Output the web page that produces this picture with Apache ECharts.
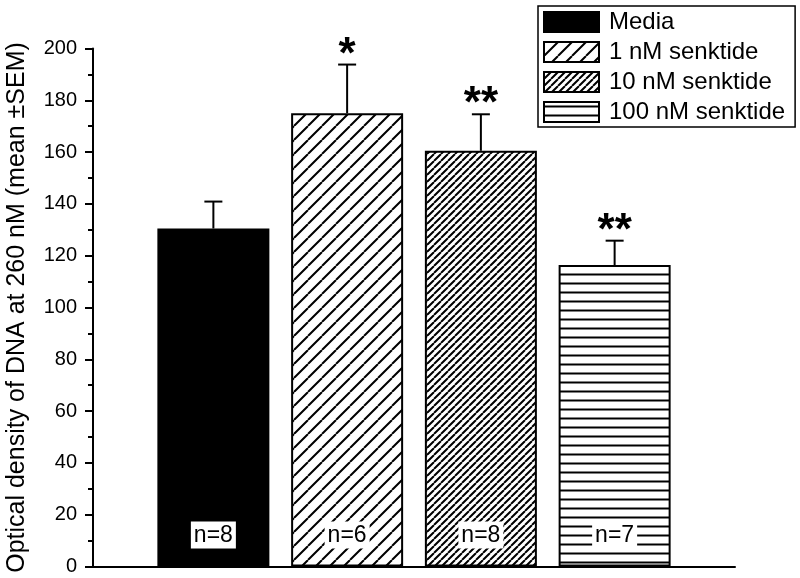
<!DOCTYPE html>
<html>
<head>
<meta charset="utf-8">
<script src="https://cdn.jsdelivr.net/npm/echarts@6/dist/echarts.min.js"></script>
<style>
body { margin: 0; padding: 0; background: #fff; }
#chart { width: 800px; height: 578px; }
</style>
</head>
<body>
<div id="chart"></div>
<script>
// data
const groups = ["Media", "1 nM senktide", "10 nM senktide", "100 nM senktide"];
const means = [130.5, 175, 160.5, 116.4];
const sem = [10.4, 18.8, 14.1, 9.4];
const nLabels = ["n=8", "n=6", "n=8", "n=7"];
const stars = ["", "*", "**", "**"];

const FONT = "Liberation Sans, Arial, sans-serif";

// hatch patterns
function hatch(kind, size) {
  let c = document.createElement("canvas");
  c.width = size;
  c.height = size;
  let ctx = c.getContext("2d");
  ctx.fillStyle = "#fff";
  ctx.fillRect(0, 0, size, size);
  ctx.strokeStyle = "#000";
  ctx.lineWidth = 2;
  ctx.beginPath();
  if (kind === "diag") {
    for (let k = -1; k <= 1; k++) {
      ctx.moveTo(k * size, size);
      ctx.lineTo(k * size + size, 0);
    }
  } else {
    ctx.moveTo(0, size / 2);
    ctx.lineTo(size, size / 2);
  }
  ctx.stroke();
  return { image: c, repeat: "repeat" };
}

const fills = ["#000", hatch("diag", 14), hatch("diag", 7), hatch("horiz", 9)];

let series = groups.map((name, i) => ({
  name: name,
  type: "bar",
  barWidth: 112,
  barGap: "-100%",
  data: [[i + 1, means[i]]],
  itemStyle: { color: fills[i], borderColor: "#000", borderWidth: 2 },
  label: {
    show: true,
    position: "insideBottom",
    distance: 18,
    formatter: nLabels[i],
    color: "#000",
    fontSize: 23,
    fontFamily: FONT,
    backgroundColor: "#fff",
    padding: [3, 3, 1, 3],
  },
}));

series.push({
  type: "custom",
  name: "err",
  data: means.map((m, i) => [i + 1, m, m + sem[i]]),
  z: 5,
  renderItem: function (params, api) {
    let x = api.value(0);
    let lo = api.coord([x, api.value(1)]);
    let hi = api.coord([x, api.value(2)]);
    return {
      type: "group",
      children: [
        { type: "line", shape: { x1: lo[0], y1: lo[1], x2: hi[0], y2: hi[1] }, style: { stroke: "#000", lineWidth: 2 } },
        { type: "line", shape: { x1: hi[0] - 9, y1: hi[1], x2: hi[0] + 9, y2: hi[1] }, style: { stroke: "#000", lineWidth: 2 } },
        {
          type: "text",
          x: hi[0],
          y: hi[1] - 9,
          style: {
            text: stars[params.dataIndex],
            font: "bold 44px " + FONT,
            fill: "#000",
            align: "center",
            verticalAlign: "middle",
          },
        },
      ],
    };
  },
});

let option = {
  animation: false,
  grid: { left: 93, right: 65, top: 48.5, bottom: 11.5, outerBoundsMode: "none" },
  legend: {
    data: groups,
    left: 538,
    top: 6,
    orient: "vertical",
    selectedMode: false,
    icon: "rect",
    itemWidth: 55,
    itemHeight: 20,
    itemGap: 6,
    padding: [4, 10, 3, 5],
    borderColor: "#000",
    borderWidth: 1.5,
    textStyle: { fontSize: 24, color: "#000", fontFamily: FONT, padding: [0, 0, 0, 5] },
  },
  xAxis: {
    type: "value",
    min: 0.1,
    max: 4.9,
    axisLine: { show: true, lineStyle: { color: "#000", width: 2 } },
    axisTick: { show: false },
    axisLabel: { show: false },
    splitLine: { show: false },
  },
  yAxis: {
    type: "value",
    min: 0,
    max: 200,
    interval: 20,
    name: "Optical density of DNA at 260 nM (mean ±SEM)",
    nameLocation: "middle",
    nameGap: 63,
    nameTextStyle: { fontSize: 25, color: "#000", fontFamily: FONT },
    axisLine: { show: true, lineStyle: { color: "#000", width: 2 } },
    axisTick: { show: true, length: 8, lineStyle: { color: "#000", width: 2 } },
    minorTick: { show: true, splitNumber: 2, length: 5, lineStyle: { color: "#000", width: 2 } },
    axisLabel: { fontSize: 20, color: "#000", fontFamily: FONT, margin: 16 },
    splitLine: { show: false },
  },
  series: series,
};

let chart = echarts.init(document.getElementById("chart"));
chart.setOption(option);
</script>
</body>
</html>
